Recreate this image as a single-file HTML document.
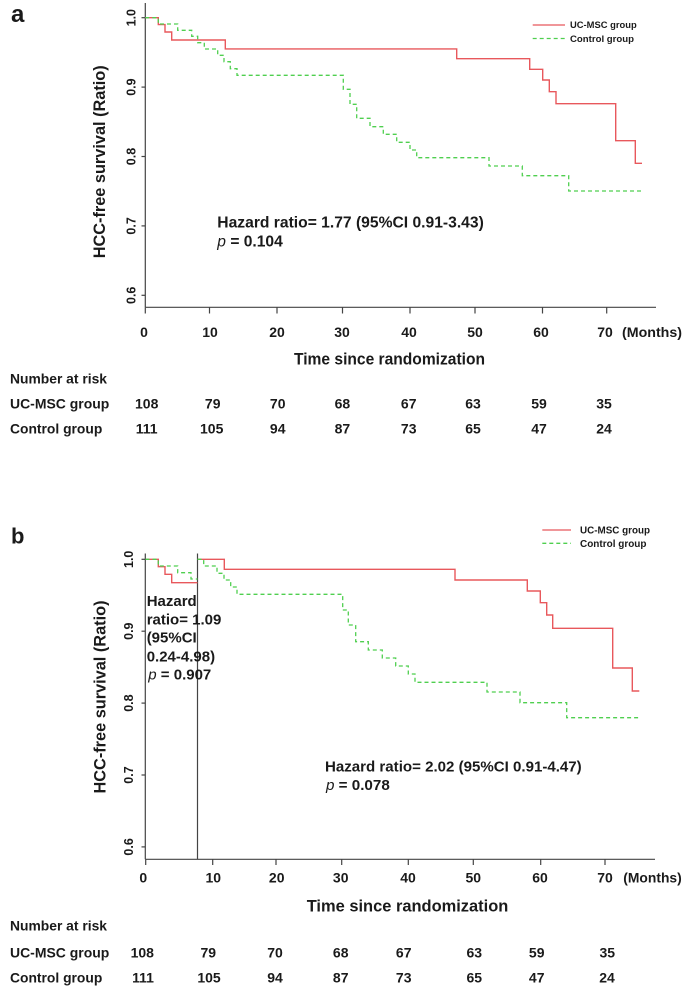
<!DOCTYPE html>
<html>
<head>
<meta charset="utf-8">
<style>
  html, body { margin:0; padding:0; background:#ffffff; }
  body { width:685px; height:989px; overflow:hidden; }
  svg { display:block; }
  text { font-family: "Liberation Sans", Arial, sans-serif; fill:#1a1a1a; }
  .b { font-weight:bold; }
</style>
</head>
<body>
<svg width="685" height="989" viewBox="0 0 685 989" xmlns="http://www.w3.org/2000/svg">
  <rect x="0" y="0" width="685" height="989" fill="#ffffff"/>

  <!-- ================= PANEL A ================= -->
  <text x="11" y="22" class="b" font-size="24">a</text>

  <g stroke="#444" stroke-width="1.2" fill="none">
    <line x1="145.3" y1="3" x2="145.3" y2="307.3"/>
    <line x1="145.3" y1="307.3" x2="656" y2="307.3"/>
    <line x1="141.5" y1="17.7" x2="145.3" y2="17.7"/>
    <line x1="141.5" y1="87.1" x2="145.3" y2="87.1"/>
    <line x1="141.5" y1="156.5" x2="145.3" y2="156.5"/>
    <line x1="141.5" y1="225.9" x2="145.3" y2="225.9"/>
    <line x1="141.5" y1="295.3" x2="145.3" y2="295.3"/>
    <line x1="145.3" y1="307.3" x2="145.3" y2="313.5"/>
    <line x1="209.5" y1="307.3" x2="209.5" y2="313.5"/>
    <line x1="277" y1="307.3" x2="277" y2="313.5"/>
    <line x1="342.5" y1="307.3" x2="342.5" y2="313.5"/>
    <line x1="410" y1="307.3" x2="410" y2="313.5"/>
    <line x1="475" y1="307.3" x2="475" y2="313.5"/>
    <line x1="542.5" y1="307.3" x2="542.5" y2="313.5"/>
    <line x1="606.7" y1="307.3" x2="606.7" y2="313.5"/>
  </g>

  <g class="b" font-size="12.5" text-anchor="middle">
    <text transform="translate(135.5,17.7) rotate(-90)">1.0</text>
    <text transform="translate(135.5,87.1) rotate(-90)">0.9</text>
    <text transform="translate(135.5,156.5) rotate(-90)">0.8</text>
    <text transform="translate(135.5,225.9) rotate(-90)">0.7</text>
    <text transform="translate(135.5,295.3) rotate(-90)">0.6</text>
  </g>
  <text transform="translate(105,161.8) rotate(-90)" class="b" font-size="16.5" text-anchor="middle" textLength="193" lengthAdjust="spacingAndGlyphs">HCC-free survival (Ratio)</text>

  <path d="M145.3,17.7 H158.3 V24.6 H165 V32 H171.7 V40 H225.3 V48.9 H456.7 V58.7 H529.7 V69.3 H542.7 V80 H549.3 V91.7 H556 V103.7 H615.7 V140.7 H635.3 V163.3 H642"
        fill="none" stroke="#e8585c" stroke-width="1.4"/>
  <path d="M145.3,17.7 H158.3 V24 H177.7 V30.3 H191.7 V36.3 H197.7 V42.7 H204.3 V49 H217.7 V55.3 H224 V61.7 H230.3 V68.7 H237 V75.3 H343.3 V89.3 H350 V104.3 H356.7 V118.3 H370 V126.7 H383.3 V134.3 H396.7 V142.3 H410 V150 H416.7 V157.7 H489 V166 H522.3 V175.7 H568.7 V191 H642"
        fill="none" stroke="#4fcf4f" stroke-width="1.3" stroke-dasharray="4,3"/>

  <line x1="532.7" y1="25" x2="565" y2="25" stroke="#e8585c" stroke-width="1.3"/>
  <line x1="532.7" y1="38.5" x2="565" y2="38.5" stroke="#4fcf4f" stroke-width="1.3" stroke-dasharray="4,3"/>
  <text x="570" y="28" class="b" font-size="9.5" textLength="66.7" lengthAdjust="spacingAndGlyphs">UC-MSC group</text>
  <text x="570" y="41.8" class="b" font-size="9.5" textLength="64" lengthAdjust="spacingAndGlyphs">Control group</text>

  <text x="217.3" y="227.6" class="b" font-size="15.6" textLength="266.5" lengthAdjust="spacingAndGlyphs">Hazard ratio= 1.77 (95%CI 0.91-3.43)</text>
  <text x="217.3" y="246.3" font-size="15.6"><tspan font-style="italic">p</tspan><tspan font-weight="bold"> = 0.104</tspan></text>

  <g class="b" font-size="14" text-anchor="middle">
    <text x="144" y="337">0</text>
    <text x="210" y="337">10</text>
    <text x="277" y="337">20</text>
    <text x="342" y="337">30</text>
    <text x="409" y="337">40</text>
    <text x="475" y="337">50</text>
    <text x="541" y="337">60</text>
    <text x="605" y="337">70</text>
  </g>
  <text x="622" y="337" class="b" font-size="14" textLength="60" lengthAdjust="spacingAndGlyphs">(Months)</text>
  <text x="294" y="364.7" class="b" font-size="16.5" textLength="191" lengthAdjust="spacingAndGlyphs">Time since randomization</text>

  <text x="10" y="383.7" class="b" font-size="14" textLength="97" lengthAdjust="spacingAndGlyphs">Number at risk</text>
  <text x="10" y="408.3" class="b" font-size="14" textLength="99.3" lengthAdjust="spacingAndGlyphs">UC-MSC group</text>
  <text x="10" y="433.3" class="b" font-size="14" textLength="92.3" lengthAdjust="spacingAndGlyphs">Control group</text>
  <g class="b" font-size="14" text-anchor="middle">
    <text x="146.7" y="408.3">108</text>
    <text x="212.7" y="408.3">79</text>
    <text x="277.7" y="408.3">70</text>
    <text x="342.4" y="408.3">68</text>
    <text x="408.7" y="408.3">67</text>
    <text x="473" y="408.3">63</text>
    <text x="539" y="408.3">59</text>
    <text x="604" y="408.3">35</text>
    <text x="146.7" y="433.3">111</text>
    <text x="211.7" y="433.3">105</text>
    <text x="277.7" y="433.3">94</text>
    <text x="342.4" y="433.3">87</text>
    <text x="408.7" y="433.3">73</text>
    <text x="473" y="433.3">65</text>
    <text x="539" y="433.3">47</text>
    <text x="604" y="433.3">24</text>
  </g>

  <!-- ================= PANEL B ================= -->
  <text x="11" y="543.3" class="b" font-size="22">b</text>

  <g stroke="#444" stroke-width="1.2" fill="none">
    <line x1="145.3" y1="553.5" x2="145.3" y2="859.3"/>
    <line x1="145.3" y1="859.3" x2="655" y2="859.3"/>
    <line x1="197.5" y1="553.5" x2="197.5" y2="859.3"/>
    <line x1="141.5" y1="559.3" x2="145.3" y2="559.3"/>
    <line x1="141.5" y1="631.2" x2="145.3" y2="631.2"/>
    <line x1="141.5" y1="703.1" x2="145.3" y2="703.1"/>
    <line x1="141.5" y1="775" x2="145.3" y2="775"/>
    <line x1="141.5" y1="846.9" x2="145.3" y2="846.9"/>
    <line x1="145.7" y1="859.3" x2="145.7" y2="865"/>
    <line x1="212.7" y1="859.3" x2="212.7" y2="865"/>
    <line x1="276" y1="859.3" x2="276" y2="865"/>
    <line x1="341.7" y1="859.3" x2="341.7" y2="865"/>
    <line x1="408.3" y1="859.3" x2="408.3" y2="865"/>
    <line x1="473.3" y1="859.3" x2="473.3" y2="865"/>
    <line x1="540.7" y1="859.3" x2="540.7" y2="865"/>
    <line x1="605" y1="859.3" x2="605" y2="865"/>
  </g>

  <g class="b" font-size="12.5" text-anchor="middle">
    <text transform="translate(133,559.3) rotate(-90)">1.0</text>
    <text transform="translate(133,631.2) rotate(-90)">0.9</text>
    <text transform="translate(133,703.1) rotate(-90)">0.8</text>
    <text transform="translate(133,775) rotate(-90)">0.7</text>
    <text transform="translate(133,846.9) rotate(-90)">0.6</text>
  </g>
  <text transform="translate(105.5,697) rotate(-90)" class="b" font-size="16.5" text-anchor="middle" textLength="193" lengthAdjust="spacingAndGlyphs">HCC-free survival (Ratio)</text>

  <path d="M145.5,559.3 H158.3 V566.7 H165 V574.3 H171.7 V582.7 H197.5"
        fill="none" stroke="#e8585c" stroke-width="1.4"/>
  <path d="M197.5,559.3 H224.3 V569.3 H455 V580 H527.3 V591 H540.3 V602.7 H546.7 V615 H552.7 V628.3 H612.7 V668 H632.3 V691 H639.3"
        fill="none" stroke="#e8585c" stroke-width="1.4"/>
  <path d="M145.5,559.3 H158.3 V566 H177.7 V572.7 H191 V579 H197.5"
        fill="none" stroke="#4fcf4f" stroke-width="1.3" stroke-dasharray="4,3"/>
  <path d="M197.5,559.3 H203.7 V566 H217 V573.3 H224 V580 H230.7 V587 H237 V594.3 H342.7 V610 H348.3 V625 H355.7 V641.7 H368.3 V650 H382.3 V658 H395.7 V666 H408.3 V674 H415 V682.3 H487 V692 H520 V702.7 H566.7 V717.7 H639.3"
        fill="none" stroke="#4fcf4f" stroke-width="1.3" stroke-dasharray="4,3"/>

  <line x1="542.3" y1="530" x2="571" y2="530" stroke="#e8585c" stroke-width="1.3"/>
  <line x1="542.3" y1="543.3" x2="571" y2="543.3" stroke="#4fcf4f" stroke-width="1.3" stroke-dasharray="4,3"/>
  <text x="580" y="533.5" class="b" font-size="9.8" textLength="70" lengthAdjust="spacingAndGlyphs">UC-MSC group</text>
  <text x="580" y="546.8" class="b" font-size="9.8" textLength="66.5" lengthAdjust="spacingAndGlyphs">Control group</text>

  <g class="b" font-size="15">
    <text x="146.7" y="606.1">Hazard</text>
    <text x="146.7" y="624.4">ratio= 1.09</text>
    <text x="146.7" y="642.7">(95%CI</text>
    <text x="146.7" y="661.4">0.24-4.98)</text>
  </g>
  <text x="148.3" y="679.4" font-size="15"><tspan font-style="italic">p</tspan><tspan font-weight="bold"> = 0.907</tspan></text>

  <text x="325" y="771.4" class="b" font-size="15.2" textLength="256.7" lengthAdjust="spacingAndGlyphs">Hazard ratio= 2.02 (95%CI 0.91-4.47)</text>
  <text x="326" y="790" font-size="15.2"><tspan font-style="italic">p</tspan><tspan font-weight="bold"> = 0.078</tspan></text>

  <g class="b" font-size="14" text-anchor="middle">
    <text x="143.3" y="882.3">0</text>
    <text x="213.3" y="882.3">10</text>
    <text x="276.7" y="882.3">20</text>
    <text x="340.7" y="882.3">30</text>
    <text x="408" y="882.3">40</text>
    <text x="473.3" y="882.3">50</text>
    <text x="540" y="882.3">60</text>
    <text x="605" y="882.3">70</text>
  </g>
  <text x="623.3" y="882.3" class="b" font-size="14" textLength="58.4" lengthAdjust="spacingAndGlyphs">(Months)</text>
  <text x="306.7" y="911.7" class="b" font-size="16.5" textLength="201.6" lengthAdjust="spacingAndGlyphs">Time since randomization</text>

  <text x="10" y="930.7" class="b" font-size="14" textLength="97" lengthAdjust="spacingAndGlyphs">Number at risk</text>
  <text x="10" y="957.3" class="b" font-size="14" textLength="99.3" lengthAdjust="spacingAndGlyphs">UC-MSC group</text>
  <text x="10" y="982.7" class="b" font-size="14" textLength="92.3" lengthAdjust="spacingAndGlyphs">Control group</text>
  <g class="b" font-size="14" text-anchor="middle">
    <text x="142.3" y="957.3">108</text>
    <text x="208.3" y="957.3">79</text>
    <text x="275" y="957.3">70</text>
    <text x="340.7" y="957.3">68</text>
    <text x="403.7" y="957.3">67</text>
    <text x="474.3" y="957.3">63</text>
    <text x="536.7" y="957.3">59</text>
    <text x="607.3" y="957.3">35</text>
    <text x="143" y="982.7">111</text>
    <text x="209" y="982.7">105</text>
    <text x="275" y="982.7">94</text>
    <text x="340.7" y="982.7">87</text>
    <text x="403.7" y="982.7">73</text>
    <text x="474.3" y="982.7">65</text>
    <text x="536.7" y="982.7">47</text>
    <text x="607" y="982.7">24</text>
  </g>
</svg>
</body>
</html>
